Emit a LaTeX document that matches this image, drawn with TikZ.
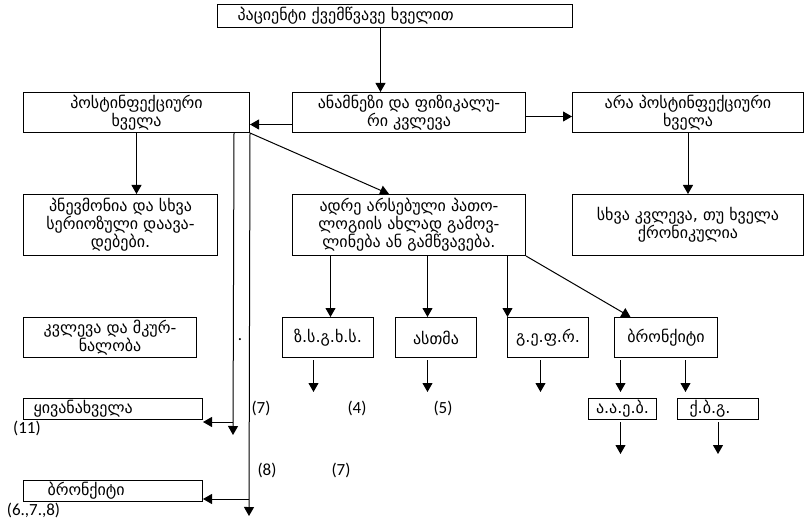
\documentclass[tikz,border=0pt]{standalone}
\usepackage{fontspec}
\setmainfont{DejaVu Sans}
\newfontfamily\numfont{Carlito}
\usetikzlibrary{arrows.meta,calc}

\begin{document}
\begin{tikzpicture}[x=1pt, y=-1pt, line width=1pt, font=\fontsize{16}{17}\selectfont,
	box/.style={draw, anchor=north west, inner sep=1pt, align=center},
	arr/.style={-{Triangle[width=10pt,length=9pt]}},
	num/.style={font=\numfont\fontsize{17}{17}\selectfont, inner sep=0pt}]
	\useasboundingbox (0,0) rectangle (805,521);
	% upper part
	\node[box, text width=315pt, align=left, inner xsep=20pt, minimum height=23pt] (top) at (217,4) {პაციენტი ქვემწვავე ხველით};
	\node[box, minimum width=233pt, minimum height=40pt] (anam) at (292,92) {ანამნეზი და ფიზიკალუ-\\რი კვლევა};
	\node[box, minimum width=226pt, minimum height=40pt] (post) at (23,92) {პოსტინფექციური\\ხველა};
	\node[box, minimum width=231pt, minimum height=40pt] (nonpost) at (572,92) {არა პოსტინფექციური\\ხველა};
	\node[box, minimum width=194pt, minimum height=61pt] (pneu) at (23,194) {პნევმონია და სხვა\\სერიოზული დაავა-\\დებები.};
	\node[box, minimum width=233pt, minimum height=61pt] (early) at (292,194) {ადრე არსებული პათო-\\ლოგიის ახლად გამოვ-\\ლინება ან გამწვავება.};
	\node[box, minimum width=231pt, minimum height=61pt] (other) at (572,194) {სხვა კვლევა, თუ ხველა\\ქრონიკულია};
	\node[box, minimum width=173pt, minimum height=40pt] (treat) at (23,317) {კვლევა და მკურ-\\ნალობა};
	% row of diagnoses
	\foreach \n/\x/\w/\t in {zs/282/91/ზ.ს.გ.ხ.ს., asthma/395/81/ასთმა, gefr/507/81/გ.ე.ფ.რ., bron/614/103/ბრონქიტი}
	\node[box, minimum width=\w pt, minimum height=40pt] (\n) at (\x,317) {\t};
	\node[box, text width=159pt, align=left, inner xsep=10pt, minimum height=21pt] (kiv) at (23,398) {ყივანახველა};
	\node[box, text width=131pt, align=left, inner xsep=24pt, minimum height=21pt] (bronL) at (23,480) {ბრონქიტი};
	\node[box, minimum width=68pt, minimum height=21pt] (aaeb) at (588,398) {ა.ა.ე.ბ.};
	\node[box, text width=57pt, align=left, inner xsep=12pt, minimum height=21pt] (qbg) at (677,398) {ქ.ბ.გ.};
	% connectors
	\draw[arr] ([xshift=-14.5pt]top.south) coordinate (t1) -- (t1 |- anam.north);
	\draw[arr] ([yshift=-12pt]anam.west) -- ([yshift=-12pt]post.east);
	\draw[arr] ([yshift=-4pt]anam.east) -- ([yshift=-4pt]nonpost.west);
	\draw[arr] (post.south) -- (post.south |- pneu.north);
	\draw[arr] (nonpost.south) -- (other.north);
	\draw[arr] (post.south east) -- ([xshift=-20pt]early.north);
	\draw[arr] (early.south east) -- ([xshift=-35.5pt]bron.north);
	\foreach \n/\dx in {zs/2.5, asthma/-8.5, gefr/-40.5}{
		\path ($(\n.north)+(\dx,0)$) coordinate (in-\n);
		\draw[arr] (early.south -| in-\n) -- (in-\n);
	}
	\foreach \n/\dx in {zs/-14.5, asthma/-8.5, gefr/-7.5, bron/-45.5, bron/19.5}
	\draw[arr] ($(\n.south)+(\dx,2)$) -- ++(0,32);
	\foreach \n/\dx in {aaeb/-2, qbg/0}
	\draw[arr] ($(\n.south)+(\dx,2)$) -- ++(0,32);
	% side lines
	\coordinate (endA) at (233,435);
	\coordinate (endB) at (249,516);
	\draw[arr] ([xshift=-16pt]post.south east) -- (endA);
	\draw[arr] (post.south east) -- (endB);
	\path ([yshift=-2pt]kiv.south east) coordinate (kA);
	\path ([yshift=3pt]bronL.south east) coordinate (kB);
	\draw[arr] (endA |- kA) -- (kA);
	\draw[arr] (endB |- kB) -- (kB);
	% labels
	\foreach \x/\y/\t in {27/428/(11), 33.5/510/{(6.,7.,8)}, 261/408/(7), 267/470/(8), 357/408/(4), 341/470/(7), 443/408/(5), 240/340/.}
	\node[num] at (\x,\y) {\t};
\end{tikzpicture}
\end{document}
